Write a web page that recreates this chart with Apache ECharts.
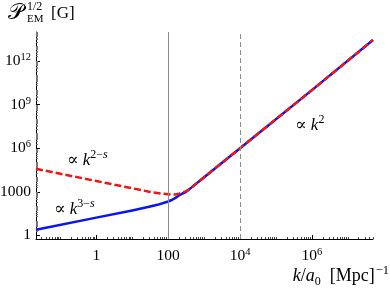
<!DOCTYPE html>
<html>
<head>
<meta charset="utf-8">
<script src="https://cdn.jsdelivr.net/npm/echarts@6/dist/echarts.min.js"></script>
<style>html,body{margin:0;padding:0;background:#fff}#c{width:390px;height:290px}</style>
</head>
<body>
<div id="c"></div>
<script>
// ---- data ----
const kBlue = [0.021, 1, 10, 31.6, 50, 100, 130, 160, 200, 250, 316, 400, 1000, 1e4, 1e6, 5e7];
const pBlue = [2.43, 16.6, 52, 98, 126, 214, 282, 380, 550, 760, 1000, 1585, 1e4, 1e6, 1e10, 2.8e13];
const kRed  = [0.021, 1, 10, 31.6, 63, 100, 126, 160, 200, 250, 316, 400, 1000, 1e4, 1e6, 5e7];
const pRed  = [38000, 5500, 1740, 977, 759, 676, 646, 661, 741, 871, 1096, 1585, 1e4, 1e6, 1e10, 2.8e13];
const xTicks = [1, 100, 1e4, 1e6];
const yTicks = [1, 1000, 1e6, 1e9, 1e12];
const vLines = [100, 1e4];

const serif = '"Liberation Serif", "DejaVu Serif", serif';
function minorLog(lo, hi) {
  const out = [];
  for (let e = lo; e <= hi; e++) {
    for (let m = 1; m <= 9; m++) out.push(m * Math.pow(10, e));
  }
  return out;
}
const xMinor = minorLog(-2, 7).filter(v => v >= 0.021 && v <= 5e7 && xTicks.indexOf(v) < 0);
const yMinor = minorLog(0, 13).filter(v => v <= 1e14 && yTicks.indexOf(v) < 0);

function powLabel(v) {
  if (v === 1) return '{b|1}';
  if (v === 100) return '{b|100}';
  if (v === 1000) return '{b|1000}';
  const e = Math.round(Math.log10(v));
  return '{b|10}{s|' + e + '}';
}
const labelRich = {
  b: {fontFamily: serif, fontSize: 15.5, color: '#000', lineHeight: 18, verticalAlign: 'middle'},
  s: {fontFamily: serif, fontSize: 10.5, color: '#000', lineHeight: 18, verticalAlign: 'top'}
};
const annRich = {
  n: {fontFamily: serif, fontSize: 17, color: '#000', lineHeight: 22, verticalAlign: 'middle'},
  i: {fontFamily: serif, fontSize: 17, fontStyle: 'italic', color: '#000', lineHeight: 22, verticalAlign: 'middle'},
  s: {fontFamily: serif, fontSize: 12, color: '#000', lineHeight: 22, verticalAlign: 'top'},
  si: {fontFamily: serif, fontSize: 12, fontStyle: 'italic', color: '#000', lineHeight: 22, verticalAlign: 'top'}
};

const chart = echarts.init(document.getElementById('c'), null, {renderer: 'canvas'});
const option = {
  animation: false,
  backgroundColor: '#fff',
  grid: {left: 36, right: 17, top: 32, bottom: 51, containLabel: false, outerBoundsMode: 'none'},
  xAxis: [{
    type: 'log', logBase: 10, min: 0.021, max: 5e7, position: 'bottom',
    axisLine: {show: true, lineStyle: {color: '#000', width: 1}},
    axisTick: {show: true, inside: true, length: 4, customValues: xTicks, lineStyle: {color: '#000'}},
    axisLabel: {show: true, customValues: xTicks, margin: 8, formatter: powLabel, rich: labelRich},
    splitLine: {show: false}
  }, {
    type: 'log', logBase: 10, min: 0.021, max: 5e7, position: 'bottom', offset: 0,
    axisLine: {show: false},
    axisTick: {show: true, inside: true, length: 2, customValues: xMinor, lineStyle: {color: '#444'}},
    axisLabel: {show: false},
    splitLine: {show: false}
  }],
  yAxis: [{
    type: 'log', logBase: 10, min: 0.56, max: 1e14, position: 'left',
    axisLine: {show: true, lineStyle: {color: '#000', width: 1}},
    axisTick: {show: true, inside: true, length: 4, customValues: yTicks, lineStyle: {color: '#000'}},
    axisLabel: {show: true, customValues: yTicks, margin: 5, formatter: powLabel, rich: labelRich},
    splitLine: {show: false}
  }, {
    type: 'log', logBase: 10, min: 0.56, max: 1e14, position: 'left', offset: 0,
    axisLine: {show: false},
    axisTick: {show: true, inside: true, length: 2, customValues: yMinor, lineStyle: {color: '#777'}},
    axisLabel: {show: false},
    splitLine: {show: false}
  }],
  series: [{
    type: 'line', name: 'blue', xAxisIndex: 0, yAxisIndex: 0,
    data: kBlue.map((k, i) => [k, pBlue[i]]),
    showSymbol: false, smooth: false,
    lineStyle: {color: '#0a14f0', width: 2.5, join: 'round'},
    markLine: {
      silent: true, symbol: 'none', label: {show: false},
      data: [
        {xAxis: vLines[0], lineStyle: {color: '#8c8c8c', width: 1, type: 'solid'}},
        {xAxis: vLines[1], lineStyle: {color: '#8c8c8c', width: 1, type: [5, 3]}}
      ]
    },
    markPoint: {
      symbol: 'circle', symbolSize: 0, silent: true,
      label: {show: true, position: 'inside', rich: annRich},
      data: [
        {coord: [8.7e5, 3.8e7], label: {formatter: '{n|∝ }{i|k}{s|2}'}},
        {coord: [0.56, 1.5e5], label: {formatter: '{n|∝ }{i|k}{s|2−}{si|s}'}},
        {coord: [0.245, 62], label: {formatter: '{n|∝ }{i|k}{s|3−}{si|s}'}}
      ]
    },
    z: 2
  }, {
    type: 'line', name: 'red', xAxisIndex: 0, yAxisIndex: 0,
    data: kRed.map((k, i) => [k, pRed[i]]),
    showSymbol: false, smooth: false,
    lineStyle: {color: '#f01414', width: 2.5, type: [7, 3], join: 'round'},
    z: 3
  }],
  graphic: [
    {type: 'text', left: 8, top: 2, style: {text: '𝒫', font: '22px ' + serif, fill: '#000'}},
    {type: 'text', left: 27, top: 1, style: {text: '1/2', font: '12px ' + serif, fill: '#000'}},
    {type: 'text', left: 27, top: 14, style: {text: 'EM', font: '11px ' + serif, fill: '#000'}},
    {type: 'text', left: 51, top: 5, style: {text: '[G]', font: '17px ' + serif, fill: '#000'}},
    {type: 'text', right: 1, top: 264, style: {
      text: '{i|k}{n|/}{i|a}{sub|0}{sp| }{n|[Mpc]}{sup|−1}',
      rich: {
        n: {fontFamily: serif, fontSize: 18, color: '#000', lineHeight: 24, verticalAlign: 'middle'},
        i: {fontFamily: serif, fontSize: 18, fontStyle: 'italic', color: '#000', lineHeight: 24, verticalAlign: 'middle'},
        sp: {fontFamily: serif, fontSize: 18, width: 9, lineHeight: 24},
        sub: {fontFamily: serif, fontSize: 12, color: '#000', lineHeight: 24, verticalAlign: 'bottom'},
        sup: {fontFamily: serif, fontSize: 12.5, color: '#000', lineHeight: 24, verticalAlign: 'top', padding: [0, 0, 0, 1]}
      }
    }}
  ]
};
chart.setOption(option);
</script>
</body>
</html>
